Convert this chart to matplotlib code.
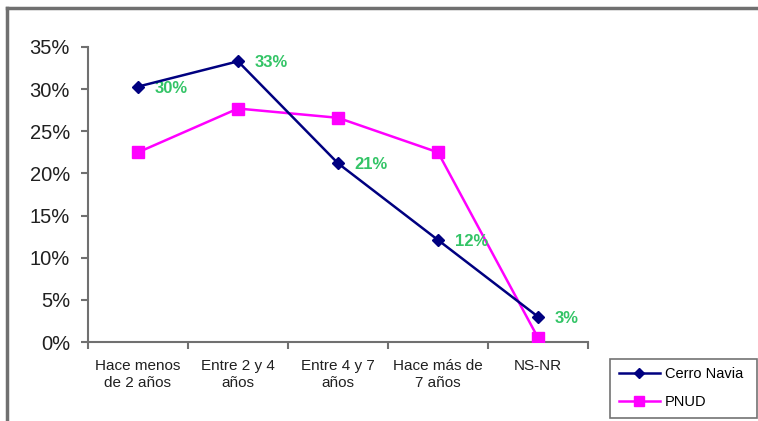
import matplotlib
matplotlib.use("Agg")
import matplotlib.pyplot as plt
from matplotlib.ticker import FixedLocator, NullFormatter
from matplotlib.lines import Line2D

categories = ["Hace menos\nde 2 años", "Entre 2 y 4\naños", "Entre 4 y 7\naños", "Hace más de\n7 años", "NS-NR"]
cerro_navia = [30.3, 33.3, 21.2, 12.1, 3.0]
pnud = [22.5, 27.7, 26.6, 22.5, 0.5]
cerro_labels = ["30%", "33%", "21%", "12%", "3%"]
yticks = [0, 5, 10, 15, 20, 25, 30, 35]

plt.rcParams['font.family'] = ['Liberation Sans', 'DejaVu Sans']

W, H = 758, 421
fig = plt.figure(figsize=(W / 100, H / 100), dpi=100)
fig.patch.set_facecolor('white')

# outer frame (top and left only)
fig.add_artist(Line2D([7 / W, 7 / W], [0, 1 - 8 / H], transform=fig.transFigure, color='#707070', lw=2.5))
fig.add_artist(Line2D([7 / W, 1], [1 - 8 / H, 1 - 8 / H], transform=fig.transFigure, color='#707070', lw=2.5))

ax = fig.add_axes([88 / W, 1 - 342 / H, (588 - 88) / W, (342 - 47) / H])
x = list(range(len(categories)))

ax.plot(x, cerro_navia, color='#000080', lw=1.8, marker='D', ms=6, label='Cerro Navia', zorder=4)
ax.plot(x, pnud, color='#FF00FF', lw=1.8, marker='s', ms=8, label='PNUD', zorder=3)

for xi, yi, lab in zip(x, cerro_navia, cerro_labels):
    ax.annotate(lab, (xi, yi), xytext=(12, -1), textcoords='offset points', ha='left', va='center',
                color='#33C466', fontsize=12, fontweight='bold')

ax.set_xlim(-0.5, 4.5)
ax.set_ylim(0, 35)
ax.set_yticks(yticks)
ax.set_yticklabels([f"{v}%" for v in yticks], fontsize=14.5, color='#202020')
ax.xaxis.set_major_locator(FixedLocator([-0.5, 0.5, 1.5, 2.5, 3.5, 4.5]))
ax.xaxis.set_major_formatter(NullFormatter())
ax.xaxis.set_minor_locator(FixedLocator(x))
ax.set_xticklabels(categories, minor=True, fontsize=11, color='#202020', linespacing=1.3)
ax.tick_params(axis='x', which='minor', length=0, pad=12)
ax.tick_params(axis='x', which='major', length=5, width=1.5, color='#707070', direction='out')
ax.tick_params(axis='y', length=5, width=1.5, color='#707070', direction='out', pad=8)

for s in ['top', 'right']:
    ax.spines[s].set_visible(False)
for s in ['left', 'bottom']:
    ax.spines[s].set_color('#707070')
    ax.spines[s].set_linewidth(1.5)
ax.set_facecolor('none')

leg = fig.legend(loc='lower left', bbox_to_anchor=(610 / W, 1 - 418 / H, (757 - 610) / W, (418 - 358) / H),
                 mode='expand', fontsize=10.5, frameon=True, fancybox=False, edgecolor='#505050',
                 handlelength=2.8, borderaxespad=0, labelspacing=0.95, borderpad=0.6, handletextpad=0.35)
leg.get_frame().set_linewidth(1.2)
for h in leg.legend_handles:
    h.set_markersize(h.get_markersize() * 0.9)

fig.savefig('out.png', dpi=100)
